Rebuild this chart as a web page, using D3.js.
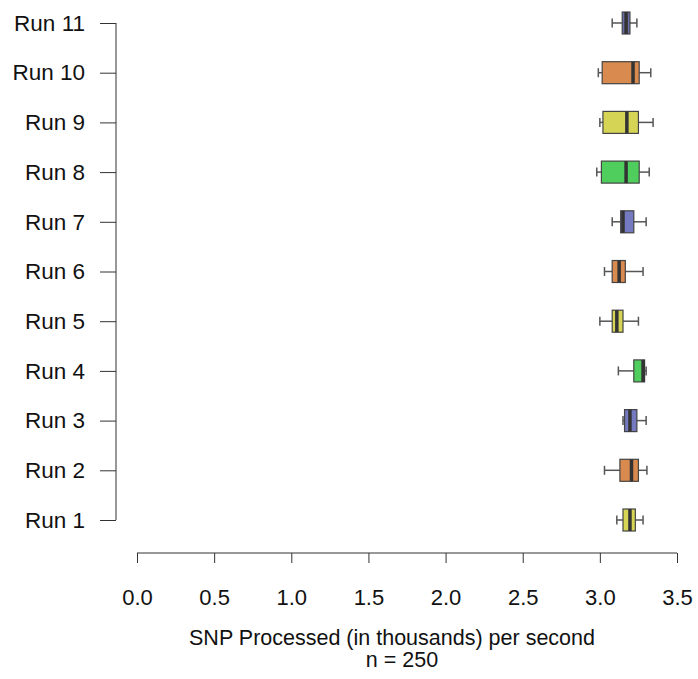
<!DOCTYPE html>
<html><head><meta charset="utf-8">
<script src="https://cdn.jsdelivr.net/npm/d3@7"></script>
<style>body{margin:0;background:#fff}svg{display:block}</style>
</head><body><svg id="c" width="698" height="679"></svg>
<script>
const runs = ["Run 1","Run 2","Run 3","Run 4","Run 5","Run 6","Run 7","Run 8","Run 9","Run 10","Run 11"];
const whiskerLow  = [3.11, 3.03, 3.15, 3.12, 3.00, 3.03, 3.08, 2.98, 3.00, 2.99, 3.08];
const q1          = [3.15, 3.13, 3.16, 3.22, 3.08, 3.08, 3.135, 3.01, 3.02, 3.015, 3.145];
const medians     = [3.195, 3.205, 3.195, 3.28, 3.11, 3.125, 3.15, 3.17, 3.175, 3.215, 3.17];
const q3          = [3.23, 3.25, 3.24, 3.29, 3.15, 3.165, 3.22, 3.255, 3.25, 3.255, 3.195];
const whiskerHigh = [3.28, 3.305, 3.30, 3.30, 3.25, 3.28, 3.30, 3.32, 3.345, 3.33, 3.24];
const fills = ["#d5d455","#d98a4e","#7479c0","#4fce5e","#d5d455","#d98a4e","#7479c0","#4fce5e","#d5d455","#d98a4e","#6a6ea8"];
const xTicks = [0,0.5,1,1.5,2,2.5,3,3.5];
const xTitle = "SNP Processed (in thousands) per second";
const subTitle = "n = 250";

const svg = d3.select("#c");
const font = "Liberation Sans, Arial, Helvetica, sans-serif";
const x = d3.scaleLinear().domain([0,3.5]).range([137,677]);
const y = d3.scalePoint().domain(runs).range([520,23]);
const bh = 22;

// y axis
const ya = svg.append("g").attr("transform","translate(116,0)")
  .call(d3.axisLeft(y).tickSize(16).tickPadding(15));
ya.select(".domain").attr("d", `M0,${y("Run 1")}V${y("Run 11")}`).attr("stroke","#333");
ya.selectAll(".tick line").attr("stroke","#333");
ya.selectAll("text").attr("font-family",font).attr("font-size",22.5).attr("fill","#111");

// x axis
const xa = svg.append("g").attr("transform","translate(0,553)")
  .call(d3.axisBottom(x).tickValues(xTicks).tickFormat(d3.format(".1f")).tickSize(10).tickPadding(26));
xa.select(".domain").attr("d", `M${x(0)},0H${x(3.5)}`).attr("stroke","#333");
xa.selectAll(".tick line").attr("stroke","#333");
xa.selectAll("text").attr("font-family",font).attr("font-size",22).attr("fill","#111");

svg.append("text").attr("x",392).attr("y",645).attr("text-anchor","middle")
  .attr("font-family",font).attr("font-size",21.5).attr("fill","#111").text(xTitle);
svg.append("text").attr("x",402).attr("y",667).attr("text-anchor","middle")
  .attr("font-family",font).attr("font-size",21.5).attr("fill","#111").text(subTitle);

const g = svg.append("g");
runs.forEach((r,i)=>{
  const cy = y(r);
  const wc = "#555";
  g.append("line").attr("x1",x(whiskerLow[i])).attr("x2",x(q1[i])).attr("y1",cy).attr("y2",cy).attr("stroke",wc).attr("stroke-width",1.5);
  g.append("line").attr("x1",x(q3[i])).attr("x2",x(whiskerHigh[i])).attr("y1",cy).attr("y2",cy).attr("stroke",wc).attr("stroke-width",1.5);
  [whiskerLow[i], whiskerHigh[i]].forEach(v=>{
    g.append("line").attr("x1",x(v)).attr("x2",x(v)).attr("y1",cy-4.5).attr("y2",cy+4.5).attr("stroke",wc).attr("stroke-width",1.5);
  });
  g.append("rect").attr("x",x(q1[i])).attr("y",cy-bh/2).attr("width",x(q3[i])-x(q1[i])).attr("height",bh)
    .attr("fill",fills[i]).attr("stroke","#444").attr("stroke-width",1.2);
  g.append("line").attr("x1",x(medians[i])).attr("x2",x(medians[i])).attr("y1",cy-bh/2).attr("y2",cy+bh/2)
    .attr("stroke","#333").attr("stroke-width",3.5);
});
</script></body></html>
